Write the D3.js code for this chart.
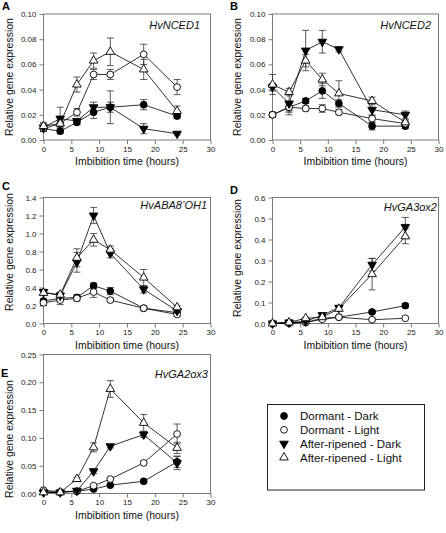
<!DOCTYPE html>
<html><head><meta charset="utf-8">
<script src="https://cdn.jsdelivr.net/npm/d3@7"></script>
<style>body{margin:0;background:#fff;} svg{display:block;font-family:Arial,"Liberation Sans",sans-serif;}</style>
</head><body>
<svg id="chart" width="446" height="533"></svg>
<script>
const times = [0, 3, 6, 9, 12, 18, 24];
const seriesNames = ["Dormant - Dark", "Dormant - Light", "After-ripened - Dark", "After-ripened - Light"];
const xTicks = [0, 5, 10, 15, 20, 25, 30];

// Panel A: HvNCED1
const nced1_DD = [0.009, 0.007, 0.014, 0.022, 0.026, 0.028, 0.019];
const nced1_DL = [0.009, 0.013, 0.022, 0.052, 0.052, 0.068, 0.042];
const nced1_AD = [0.010, 0.017, 0.015, 0.026, 0.026, 0.009, 0.005];
const nced1_AL = [0.011, 0.013, 0.044, 0.063, 0.070, 0.056, 0.023];
const nced1_DD_err = [0.002, 0.002, 0.002, 0.005, 0.004, 0.004, 0.002];
const nced1_DL_err = [0.002, 0.002, 0.003, 0.004, 0.004, 0.008, 0.006];
const nced1_AD_err = [0.003, 0.009, 0.002, 0.004, 0.013, 0.004, 0.001];
const nced1_AL_err = [0.003, 0.003, 0.006, 0.006, 0.011, 0.008, 0.004];
const nced1_yTicks = [0, 0.02, 0.04, 0.06, 0.08, 0.10];

// Panel B: HvNCED2
const nced2_DD = [0.020, 0.026, 0.031, 0.039, 0.029, 0.011, 0.011];
const nced2_DL = [0.020, 0.026, 0.025, 0.025, 0.022, 0.017, 0.013];
const nced2_AD = [0.042, 0.029, 0.071, 0.078, 0.072, 0.024, 0.020];
const nced2_AL = [0.044, 0.038, 0.063, 0.048, 0.037, 0.031, 0.014];
const nced2_DD_err = [0.002, 0.003, 0.002, 0.006, 0.003, 0.003, 0.002];
const nced2_DL_err = [0.002, 0.004, 0.002, 0.003, 0.002, 0.003, 0.002];
const nced2_AD_err = [0.003, 0.009, 0.016, 0.009, 0.002, 0.005, 0.003];
const nced2_AL_err = [0.008, 0.003, 0.005, 0.005, 0.010, 0.003, 0.002];
const nced2_yTicks = [0, 0.02, 0.04, 0.06, 0.08, 0.10];

// Panel C: HvABA8'OH1
const aba_DD = [0.25, 0.28, 0.29, 0.42, 0.36, 0.17, 0.12];
const aba_DL = [0.23, 0.26, 0.28, 0.35, 0.26, 0.17, 0.10];
const aba_AD = [0.35, 0.31, 0.68, 1.20, 0.78, 0.38, 0.14];
const aba_AL = [0.34, 0.32, 0.73, 0.93, 0.82, 0.51, 0.18];
const aba_DD_err = [0.02, 0.03, 0.03, 0.03, 0.04, 0.02, 0.02];
const aba_DL_err = [0.03, 0.05, 0.03, 0.06, 0.02, 0.02, 0.02];
const aba_AD_err = [0.03, 0.03, 0.11, 0.09, 0.05, 0.04, 0.02];
const aba_AL_err = [0.03, 0.03, 0.10, 0.07, 0.04, 0.09, 0.02];
const aba_yTicks = [0, 0.2, 0.4, 0.6, 0.8, 1.0, 1.2, 1.4];

// Panel D: HvGA3ox2
const ga3_DD = [0.000, 0.005, 0.005, 0.025, 0.030, 0.055, 0.085];
const ga3_DL = [0.000, 0.000, 0.005, 0.020, 0.030, 0.018, 0.025];
const ga3_AD = [0.000, 0.005, 0.010, 0.040, 0.075, 0.280, 0.460];
const ga3_AL = [0.000, 0.005, 0.025, 0.030, 0.070, 0.235, 0.415];
const ga3_DD_err = [0.003, 0.003, 0.003, 0.005, 0.005, 0.008, 0.010];
const ga3_DL_err = [0.003, 0.003, 0.003, 0.005, 0.005, 0.005, 0.005];
const ga3_AD_err = [0.003, 0.003, 0.005, 0.008, 0.010, 0.030, 0.045];
const ga3_AL_err = [0.003, 0.003, 0.005, 0.008, 0.010, 0.075, 0.035];
const ga3_yTicks = [0, 0.1, 0.2, 0.3, 0.4, 0.5, 0.6];

// Panel E: HvGA2ox3
const ga2_DD = [0.003, 0.002, 0.004, 0.008, 0.015, 0.022, 0.057];
const ga2_DL = [0.006, 0.003, 0.004, 0.014, 0.026, 0.055, 0.107];
const ga2_AD = [0.002, 0.002, 0.005, 0.040, 0.085, 0.106, 0.055];
const ga2_AL = [0.002, 0.002, 0.026, 0.083, 0.188, 0.127, 0.082];
const ga2_DD_err = [0.001, 0.001, 0.001, 0.002, 0.002, 0.003, 0.010];
const ga2_DL_err = [0.001, 0.001, 0.001, 0.002, 0.002, 0.003, 0.018];
const ga2_AD_err = [0.001, 0.001, 0.001, 0.004, 0.003, 0.005, 0.012];
const ga2_AL_err = [0.001, 0.001, 0.003, 0.008, 0.015, 0.015, 0.010];
const ga2_yTicks = [0, 0.05, 0.10, 0.15, 0.20, 0.25];

const panels = [
  {letter: "A", gene: "HvNCED1", x0: 43.5, x1: 210.5, y0: 14, y1: 140, ymax: 0.10, fmt: ".2f", ticks: nced1_yTicks,
   vals: [nced1_DD, nced1_DL, nced1_AD, nced1_AL], errs: [nced1_DD_err, nced1_DL_err, nced1_AD_err, nced1_AL_err],
   lx: 2, ly: 10, ylabX: 9, ylabC: 77, gx: 200, gy: 29},
  {letter: "B", gene: "HvNCED2", x0: 272.5, x1: 438.5, y0: 14, y1: 140, ymax: 0.10, fmt: ".2f", ticks: nced2_yTicks,
   vals: [nced2_DD, nced2_DL, nced2_AD, nced2_AL], errs: [nced2_DD_err, nced2_DL_err, nced2_AD_err, nced2_AL_err],
   lx: 230, ly: 10, ylabX: 237, ylabC: 77, gx: 431, gy: 29},
  {letter: "C", gene: "HvABA8\u2019OH1", x0: 43.5, x1: 210.5, y0: 197.5, y1: 323.5, ymax: 1.4, fmt: ".1f", ticks: aba_yTicks,
   vals: [aba_DD, aba_DL, aba_AD, aba_AL], errs: [aba_DD_err, aba_DL_err, aba_AD_err, aba_AL_err],
   lx: 2, ly: 190, ylabX: 9, ylabC: 252, gx: 207, gy: 209},
  {letter: "D", gene: "HvGA3ox2", x0: 272.5, x1: 438.5, y0: 197.5, y1: 323.5, ymax: 0.6, fmt: ".1f", ticks: ga3_yTicks,
   vals: [ga3_DD, ga3_DL, ga3_AD, ga3_AL], errs: [ga3_DD_err, ga3_DL_err, ga3_AD_err, ga3_AL_err],
   lx: 230, ly: 194, ylabX: 237, ylabC: 258, gx: 437, gy: 211},
  {letter: "E", gene: "HvGA2ox3", x0: 43.5, x1: 210.5, y0: 354.5, y1: 493.5, ymax: 0.25, fmt: ".2f", ticks: ga2_yTicks,
   vals: [ga2_DD, ga2_DL, ga2_AD, ga2_AL], errs: [ga2_DD_err, ga2_DL_err, ga2_AD_err, ga2_AL_err],
   lx: 1, ly: 377, ylabX: 9, ylabC: 439, gx: 208, gy: 378}
];

const svg = d3.select("#chart");
const frameCol = "#7a7a7a";
const triSym = d3.symbol().type(d3.symbolTriangle).size(32);

function drawMarker(g, i, x, y) {
  if (i < 2) {
    g.append("circle").attr("cx", x).attr("cy", y).attr("r", 3.4)
      .attr("fill", i === 0 ? "#000" : "#fff").attr("stroke", "#000").attr("stroke-width", 0.9);
  } else {
    g.append("path").attr("d", triSym())
      .attr("transform", `translate(${x},${y})` + (i === 2 ? " rotate(180)" : ""))
      .attr("fill", i === 2 ? "#000" : "#fff").attr("stroke", "#000").attr("stroke-width", 0.9);
  }
}

panels.forEach(p => {
  const x = d3.scaleLinear().domain([0, 30]).range([p.x0, p.x1]);
  const y = d3.scaleLinear().domain([0, p.ymax]).range([p.y1, p.y0]);
  const g = svg.append("g");

  const xa = g.append("g").attr("transform", `translate(0,${p.y1})`)
    .call(d3.axisBottom(x).tickValues(xTicks).tickSize(4).tickSizeOuter(0).tickPadding(2));
  const ya = g.append("g").attr("transform", `translate(${p.x0},0)`)
    .call(d3.axisLeft(y).tickValues(p.ticks).tickFormat(d3.format(p.fmt)).tickSize(4).tickSizeOuter(0).tickPadding(3));
  [xa, ya].forEach(a => {
    a.select(".domain").remove();
    a.selectAll("line").attr("stroke", frameCol);
    a.selectAll("text").attr("font-size", 8).attr("fill", "#222").attr("font-family", "Arial, 'Liberation Sans', sans-serif");
  });
  g.append("rect").attr("x", p.x0).attr("y", p.y0).attr("width", p.x1 - p.x0).attr("height", p.y1 - p.y0)
    .attr("fill", "none").attr("stroke", frameCol).attr("stroke-width", 1);

  g.append("text").attr("x", (p.x0 + p.x1) / 2).attr("y", p.y1 + 25).attr("text-anchor", "middle")
    .attr("font-size", 10.5).attr("fill", "#111").text("Imbibition time (hours)");
  g.append("text").attr("transform", `translate(${p.ylabX + 4},${p.ylabC}) rotate(-90)`)
    .attr("text-anchor", "middle").attr("font-size", 10.5).attr("fill", "#111").text("Relative gene expression");
  g.append("text").attr("x", p.lx).attr("y", p.ly).attr("font-size", 11).attr("font-weight", "bold").text(p.letter);
  g.append("text").attr("x", p.gx).attr("y", p.gy).attr("text-anchor", "end")
    .attr("font-size", 11).attr("font-style", "italic").attr("fill", "#111").text(p.gene);

  const line = d3.line().x((d, j) => x(times[j])).y(d => y(d));
  p.vals.forEach(v => {
    g.append("path").attr("d", line(v)).attr("fill", "none").attr("stroke", "#000").attr("stroke-width", 0.8);
  });
  p.vals.forEach((v, i) => {
    v.forEach((d, j) => {
      const e = p.errs[i][j];
      const cx = x(times[j]);
      const top = y(d + e), bot = y(Math.max(0, d - e));
      g.append("line").attr("x1", cx).attr("x2", cx).attr("y1", top).attr("y2", bot).attr("stroke", "#333").attr("stroke-width", 0.8);
      [top, bot].forEach(yy => g.append("line").attr("x1", cx - 3.5).attr("x2", cx + 3.5).attr("y1", yy).attr("y2", yy)
        .attr("stroke", "#333").attr("stroke-width", 0.8));
    });
  });
  p.vals.forEach((v, i) => {
    v.forEach((d, j) => drawMarker(g, i, x(times[j]), y(d)));
  });
});

const lg = svg.append("g");
lg.append("rect").attr("x", 267.5).attr("y", 404.5).attr("width", 157).attr("height", 85.5)
  .attr("fill", "none").attr("stroke", "#222").attr("stroke-width", 1);
const legY = d3.scalePoint().domain(seriesNames).range([416, 457.5]);
seriesNames.forEach((n, i) => {
  drawMarker(lg, i, 284, legY(n));
  lg.append("text").attr("x", 300).attr("y", legY(n) + 4).attr("font-size", 11.5).attr("fill", "#111").text(n);
});
</script>
</body></html>
